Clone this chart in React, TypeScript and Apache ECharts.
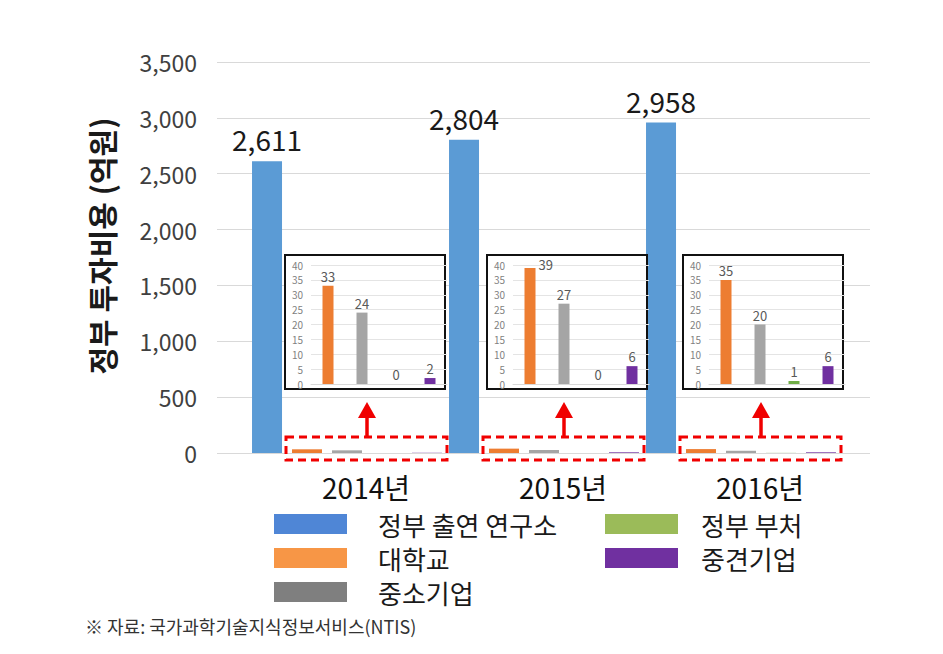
import React, { useEffect, useRef } from 'react';
import * as echarts from 'echarts';

const years = ['2014년', '2015년', '2016년'];
const seriesNames = ['정부 출연 연구소', '대학교', '중소기업', '정부 부처', '중견기업'];
const instituteValues = [2611, 2804, 2958];
const universityValues = [33, 39, 35];
const smeValues = [24, 27, 20];
const ministryValues = [0, 0, 1];
const midsizeValues = [2, 6, 6];
const mainAxis = { min: 0, max: 3500, interval: 500 };
const insetAxis = { min: 0, max: 40, interval: 5 };
const yAxisTitle = '정부 투자비용 (억원)';
const sourceNote = '※ 자료: 국가과학기술지식정보서비스(NTIS)';

const barColors = ['#5b9bd5', '#ed7d31', '#a5a5a5', '#70ad47', '#7030a0'];
const legendColors = ['#4f86d6', '#f79646', '#7f7f7f', '#9bbb59', '#7030a0'];

const FONT = '"Noto Sans CJK KR", "Noto Sans", sans-serif';

// layout
const W = 943;
const H = 654;
const PLOT_TOP = 62;
const PLOT_BOTTOM = 453;
const GRID_LEFT = 217;
const GRID_RIGHT = 870;
const BARS_LEFT = 248.5;
const BARS_RIGHT = 839.5;
const INSET_LEFTS = [285, 487, 683];
const INSET_TOP = 255;
const INSET_W = 160;
const INSET_H = 134;

export default function App() {
  const ref = useRef<HTMLDivElement>(null);

  useEffect(() => {
    const el = ref.current as HTMLDivElement;
    const chart = echarts.init(el, null, { renderer: 'svg' });

    const mainValues = [instituteValues, universityValues, smeValues, ministryValues, midsizeValues];
    const band = (BARS_RIGHT - BARS_LEFT) / years.length;
    const centers = years.map((_, i) => BARS_LEFT + band * (i + 0.5));

    const insetGrids = INSET_LEFTS.map((l) => ({
      left: l + 26,
      top: INSET_TOP + 10,
      width: 136,
      height: 119,
      outerBoundsMode: 'none',
    }));

    const graphics: any[] = [];
    graphics.push({
      type: 'text',
      x: 101,
      y: 246,
      rotation: Math.PI / 2,
      style: {
        text: yAxisTitle,
        fontSize: 30,
        fontWeight: 'bold',
        fontFamily: FONT,
        fill: '#1a1a1a',
        align: 'center',
        verticalAlign: 'middle',
      },
    });
    INSET_LEFTS.forEach((l) => {
      graphics.push({
        type: 'rect',
        z: 3,
        shape: { x: l, y: INSET_TOP, width: INSET_W, height: INSET_H },
        style: { fill: '#ffffff', stroke: '#111111', lineWidth: 2 },
      });
    });
    centers.forEach((c) => {
      graphics.push({
        type: 'rect',
        z: 10,
        shape: { x: c - 61, y: 437, width: 161, height: 23 },
        style: { fill: 'none', stroke: '#f00000', lineWidth: 3, lineDash: [8, 5] },
      });
      const ax = c + 20;
      graphics.push({
        type: 'line',
        z: 10,
        shape: { x1: ax, y1: 437, x2: ax, y2: 416 },
        style: { stroke: '#f00000', lineWidth: 3.5 },
      });
      graphics.push({
        type: 'polygon',
        z: 10,
        shape: { points: [[ax - 9, 418], [ax + 9, 418], [ax, 402]] },
        style: { fill: '#f00000' },
      });
    });
    graphics.push({
      type: 'text',
      x: 85,
      y: 626,
      style: {
        text: sourceNote,
        fontSize: 18,
        fontFamily: FONT,
        fill: '#333333',
        align: 'left',
        verticalAlign: 'middle',
      },
    });

    const legendText = (pad: number) => ({
      fontSize: 26,
      lineHeight: 26,
      color: '#1a1a1a',
      fontFamily: FONT,
      padding: [0, 0, 0, pad],
    });

    const option: any = {
      animation: false,
      backgroundColor: '#ffffff',
      textStyle: { fontFamily: FONT },
      grid: [
        { left: GRID_LEFT, top: PLOT_TOP, width: GRID_RIGHT - GRID_LEFT, height: PLOT_BOTTOM - PLOT_TOP, outerBoundsMode: 'none' },
        { left: BARS_LEFT, top: PLOT_TOP, width: BARS_RIGHT - BARS_LEFT, height: PLOT_BOTTOM - PLOT_TOP, outerBoundsMode: 'none' },
        ...insetGrids,
      ],
      xAxis: [
        { gridIndex: 0, type: 'category', data: years, show: false },
        {
          gridIndex: 1,
          type: 'category',
          data: years,
          axisLine: { show: false },
          axisTick: { show: false },
          splitLine: { show: false },
          axisLabel: {
            fontSize: 28,
            lineHeight: 30,
            color: '#111111',
            margin: 19,
            padding: [0, 0, 0, 38],
            fontFamily: FONT,
          },
        },
        ...INSET_LEFTS.map((_, i) => ({
          gridIndex: 2 + i,
          type: 'category',
          data: seriesNames.slice(1),
          z: 4,
          axisLabel: { show: false },
          axisTick: { show: false },
          splitLine: { show: false },
          axisLine: { show: true, lineStyle: { color: '#d9d9d9', width: 1 } },
        })),
      ],
      yAxis: [
        {
          gridIndex: 0,
          type: 'value',
          min: mainAxis.min,
          max: mainAxis.max,
          interval: mainAxis.interval,
          axisLine: { show: false },
          axisTick: { show: false },
          axisLabel: {
            fontSize: 23,
            color: '#404040',
            margin: 20,
            fontFamily: FONT,
            formatter: (v: number) => v.toLocaleString('en-US'),
          },
          splitLine: { show: true, lineStyle: { color: '#d9d9d9', width: 1 } },
        },
        {
          gridIndex: 1,
          type: 'value',
          min: mainAxis.min,
          max: mainAxis.max,
          interval: mainAxis.interval,
          show: false,
          splitLine: { show: false },
        },
        ...INSET_LEFTS.map((_, i) => ({
          gridIndex: 2 + i,
          type: 'value',
          min: insetAxis.min,
          max: insetAxis.max,
          interval: insetAxis.interval,
          z: 4,
          axisLine: { show: false },
          axisTick: { show: false },
          axisLabel: { fontSize: 10, color: '#7f7f7f', margin: 8, fontFamily: FONT },
          splitLine: { show: true, lineStyle: { color: '#e4e4e4', width: 1 } },
        })),
      ],
      legend: [
        {
          left: 274,
          top: 511,
          orient: 'vertical',
          padding: 0,
          itemWidth: 73,
          itemHeight: 20,
          itemGap: 8,
          icon: 'rect',
          selectedMode: false,
          data: [0, 1, 2].map((k) => ({ name: seriesNames[k], itemStyle: { color: legendColors[k] } })),
          textStyle: legendText(26),
        },
        {
          left: 605,
          top: 511,
          orient: 'vertical',
          padding: 0,
          itemWidth: 73,
          itemHeight: 20,
          itemGap: 8,
          icon: 'rect',
          selectedMode: false,
          data: [3, 4].map((k) => ({ name: seriesNames[k], itemStyle: { color: legendColors[k] } })),
          textStyle: legendText(18),
        },
      ],
      series: [
        ...seriesNames.map((name, k) => ({
          name,
          type: 'bar',
          xAxisIndex: 1,
          yAxisIndex: 1,
          data: mainValues[k],
          barWidth: 30,
          barGap: '33.3%',
          z: 2,
          itemStyle: { color: barColors[k] },
          label:
            k === 0
              ? {
                  show: true,
                  position: 'top',
                  distance: 8,
                  fontSize: 28,
                  color: '#1a1a1a',
                  fontFamily: FONT,
                  formatter: (p: any) => Number(p.value).toLocaleString('en-US'),
                }
              : { show: false },
        })),
        ...INSET_LEFTS.map((_, i) => {
          const vals = [universityValues[i], smeValues[i], ministryValues[i], midsizeValues[i]];
          return {
            name: `${years[i]} 세부`,
            type: 'bar',
            xAxisIndex: 2 + i,
            yAxisIndex: 2 + i,
            barWidth: 11,
            z: 5,
            label: {
              show: true,
              position: 'top',
              distance: 3,
              fontSize: 13,
              color: '#595959',
              fontFamily: FONT,
            },
            data: vals.map((v, j) => {
              const d: any = { value: v, itemStyle: { color: barColors[j + 1] } };
              if (v > 36) d.label = { position: [14, -10] };
              return d;
            }),
          };
        }),
      ],
      graphic: { elements: graphics },
    };

    chart.setOption(option);
    return () => chart.dispose();
  }, []);

  return (
    <div
      ref={ref}
      style={{ position: 'absolute', left: 0, top: 0, width: W, height: H, background: '#ffffff' }}
    />
  );
}
